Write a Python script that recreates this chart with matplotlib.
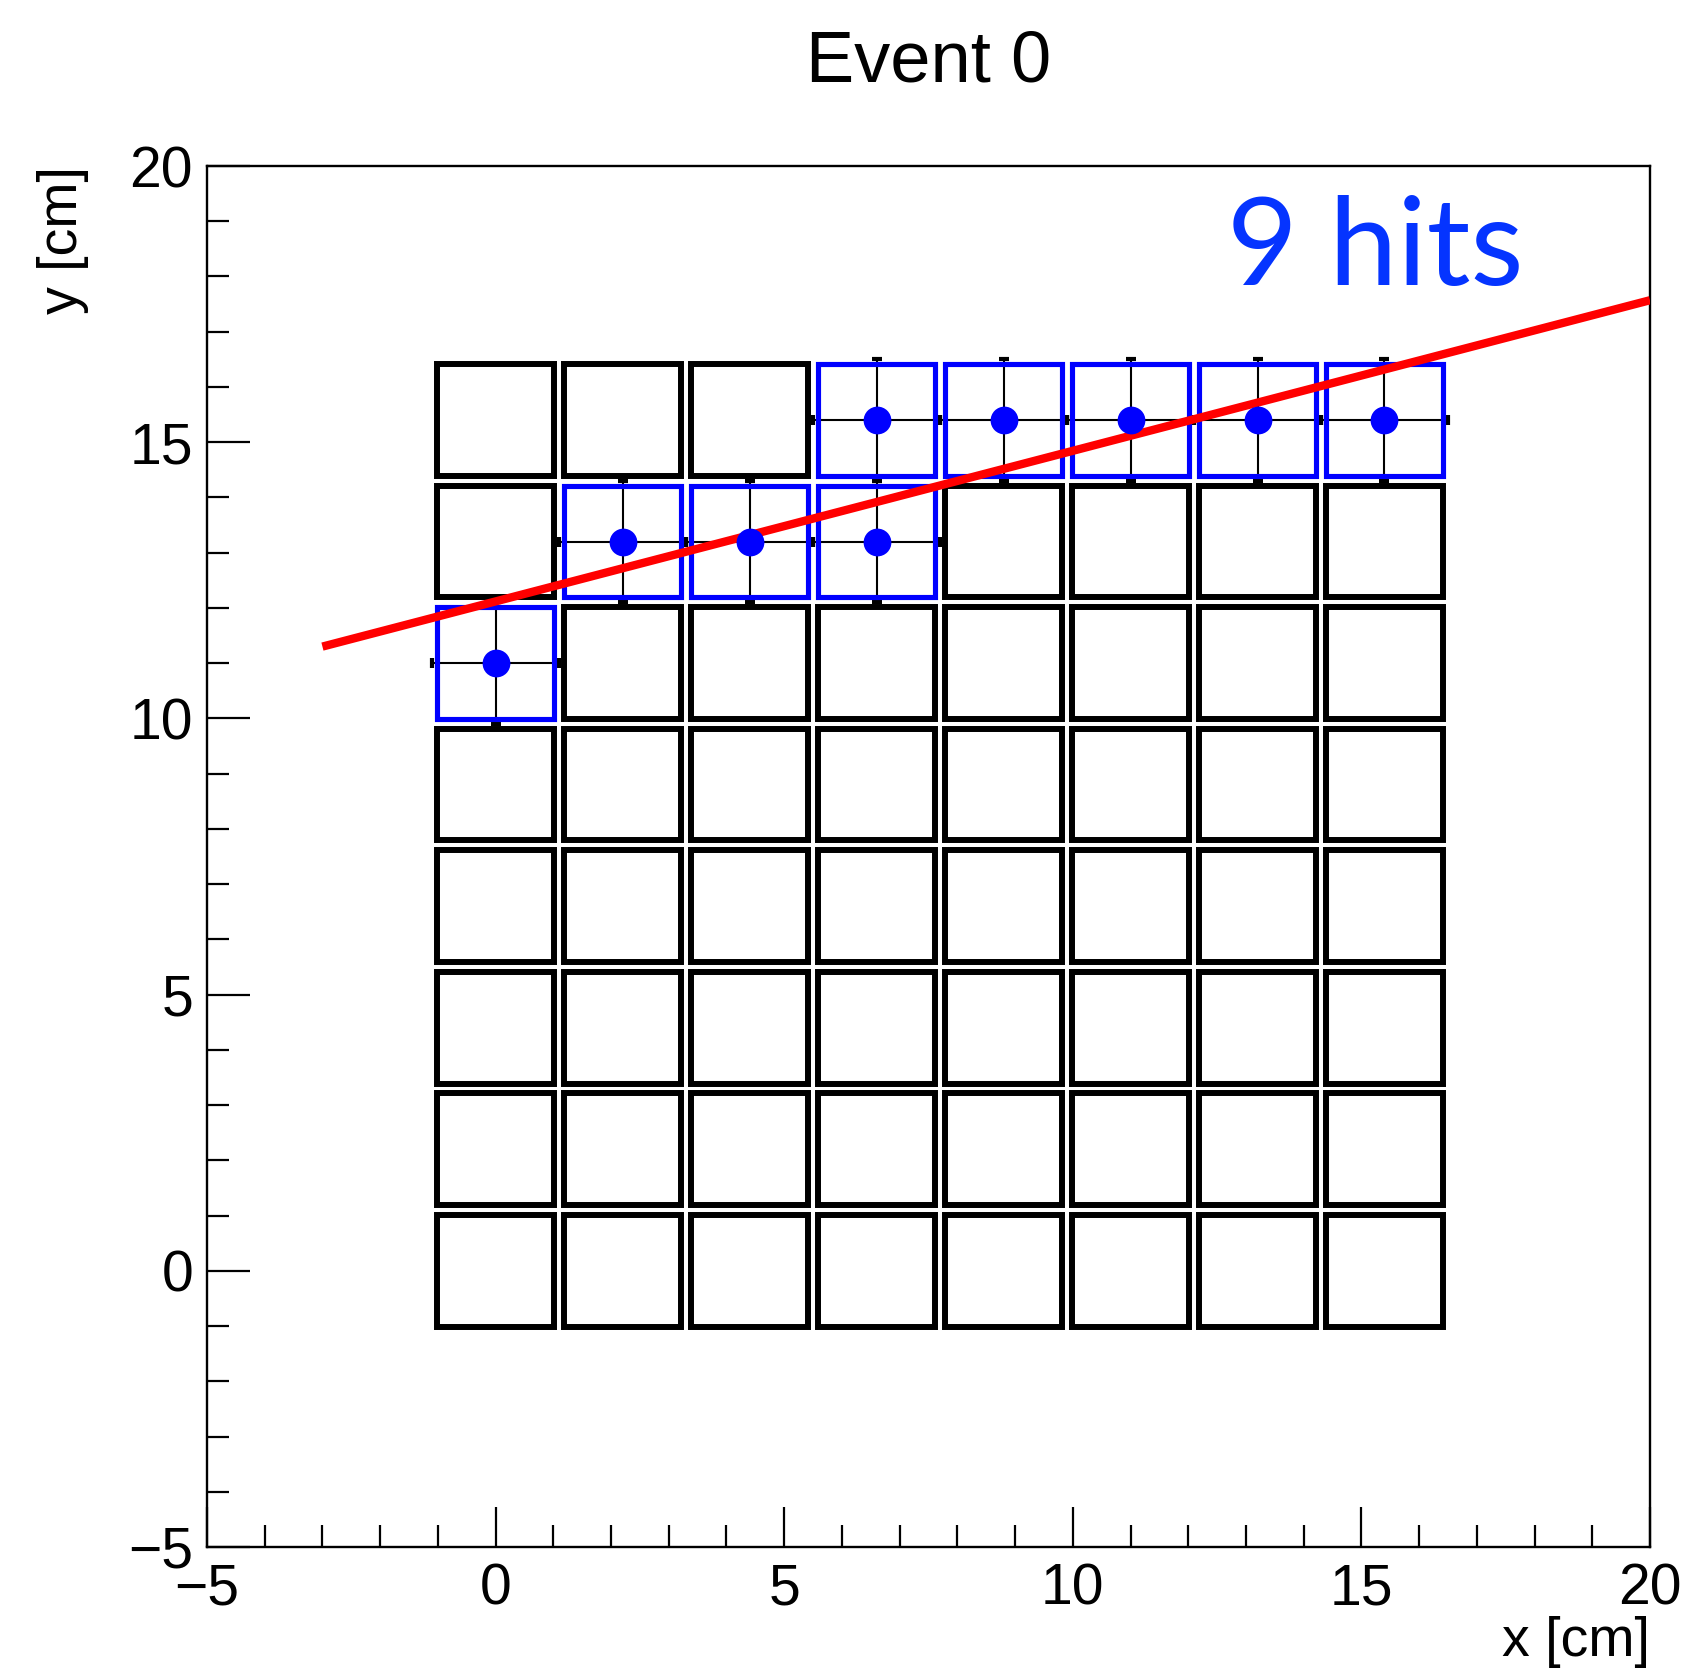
import matplotlib
matplotlib.use("Agg")
import matplotlib.pyplot as plt
from matplotlib.patches import Rectangle
from matplotlib.ticker import MultipleLocator

# ---- data ----
cell_x = [0.0, 2.2, 4.4, 6.6, 8.8, 11.0, 13.2, 15.4]
cell_y = [0.0, 2.2, 4.4, 6.6, 8.8, 11.0, 13.2, 15.4]
cell_half = 1.01

hit_x = [0.0, 2.2, 4.4, 6.6, 6.6, 8.8, 11.0, 13.2, 15.4]
hit_y = [11.0, 13.2, 13.2, 13.2, 15.4, 15.4, 15.4, 15.4, 15.4]
hit_err = [1.1] * 9

fit_x = [-3.0, 20.0]
fit_y = [11.30, 17.57]

title = "Event 0"
n_hits_label = "9 hits"
x_label = "x [cm]"
y_label = "y [cm]"

# ---- figure ----
W, H = 1687, 1671
fig = plt.figure(figsize=(W / 100, H / 100), dpi=100)
plt.rcParams['font.family'] = ['Liberation Sans', 'DejaVu Sans']
ax = fig.add_axes([207 / W, 1 - 1547 / H, 1443 / W, 1381 / H])
ax.set_xlim(-5, 20)
ax.set_ylim(-5, 20)

hits = set(zip(hit_x, hit_y))
for cx in cell_x:
    for cy in cell_y:
        is_hit = (cx, cy) in hits
        ax.add_patch(Rectangle((cx - cell_half, cy - cell_half), 2 * cell_half, 2 * cell_half,
                               fill=False, edgecolor='blue' if is_hit else 'black',
                               linewidth=3.7 if is_hit else 4.3,
                               zorder=3 if is_hit else 2, joinstyle='miter'))

ax.errorbar(hit_x, hit_y, xerr=hit_err, yerr=hit_err, fmt='none', ecolor='black',
            elinewidth=1.5, capsize=3.5, capthick=3, zorder=2.5)
ax.plot(fit_x, fit_y, color='red', linewidth=6, zorder=4, solid_capstyle='butt')
ax.plot(hit_x, hit_y, 'o', color='blue', markersize=20, markeredgewidth=0, zorder=5)

ax.text(12.67, 17.85, n_hits_label, color='#0534ff', fontsize=88,
        family=['Lato', 'DejaVu Sans'], ha='left', va='baseline', zorder=6)

# ---- axes styling (ROOT-like) ----
ax.xaxis.set_major_locator(MultipleLocator(5))
ax.yaxis.set_major_locator(MultipleLocator(5))
ax.xaxis.set_minor_locator(MultipleLocator(1))
ax.yaxis.set_minor_locator(MultipleLocator(1))
ax.tick_params(which='both', direction='in', top=False, right=False, width=1.6, labelsize=41)
ax.tick_params(axis='x', which='major', length=29, pad=11)
ax.tick_params(axis='x', which='minor', length=16)
ax.tick_params(axis='y', which='major', length=31, pad=10)
ax.tick_params(axis='y', which='minor', length=16)
for s in ax.spines.values():
    s.set_linewidth(1.7)

ax.set_xlabel(x_label, fontsize=40, loc='right')
ax.xaxis.set_label_coords(1.0, -0.05)
ax.set_ylabel(y_label, fontsize=40, loc='top')
ax.yaxis.set_label_coords(-0.082, 1.0)

fig.text((207 + 1650) / 2 / W, 1 - 81 / H, title, ha='center', va='baseline', fontsize=52)

fig.savefig("out.png", dpi=100)
